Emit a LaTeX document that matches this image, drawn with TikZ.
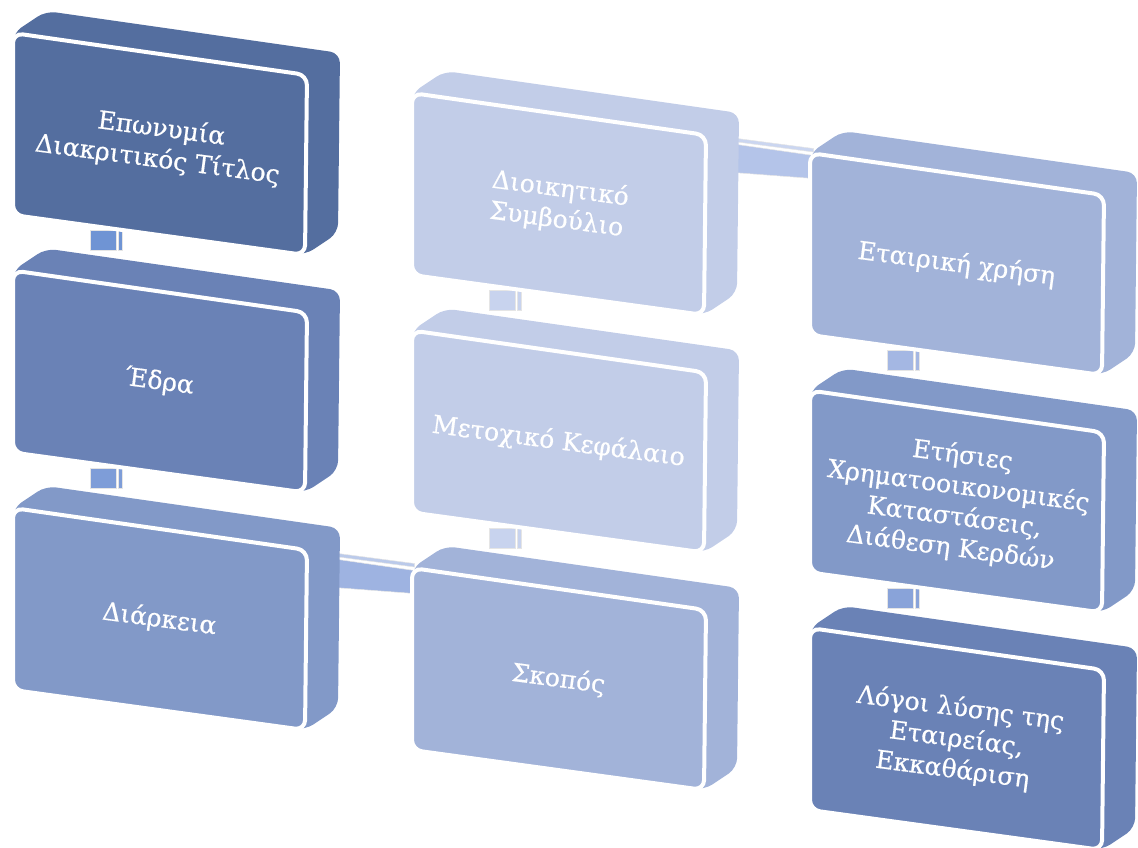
\documentclass[tikz,border=0pt]{standalone}
\usepackage{fontspec}
\setmainfont{DejaVu Serif}[FakeBold=0.6]
\usetikzlibrary{calc}
\pgfdeclarelayer{background}
\pgfsetlayers{background,main}
\definecolor{cA}{HTML}{546E9F}
\definecolor{cB}{HTML}{6A82B6}
\definecolor{cC}{HTML}{8299C8}
\definecolor{cD}{HTML}{C2CDE8}
\definecolor{cE}{HTML}{A2B3D9}
\definecolor{kA}{HTML}{6F94D4}
\definecolor{kB}{HTML}{7E9DD8}
\definecolor{kD}{HTML}{C8D3EE}
\definecolor{kE}{HTML}{A4B7E3}
\definecolor{kC}{HTML}{89A3D9}
\definecolor{hA}{HTML}{9EB3E1}
\definecolor{hB}{HTML}{B4C4E9}
\tikzset{
  x=1pt, y=-1pt,
  body/.style={fill=#1, rounded corners=10pt},
  face/.style={fill=#1, draw=white, line width=4pt, rounded corners=10pt},
  lbl/.style={text=white, align=center, rotate=-7.5, inner sep=0pt,
    font=\fontsize{25}{31}\selectfont},
  vbar/.style={fill=#1, draw=black!10, line width=0.5pt},
  hbar/.style={fill=#1, draw=black!10, line width=0.5pt},
}
\newcommand\pbox[5]{%
  \begin{scope}[shift={(#2,#3)}]
    \fill[body=#4] (0,0) -- (33,-22) -- (327,20) -- (325,200) -- (292,222) -- (0,182) -- cycle;
    \draw[face=#4] (0,0) -- (294,42) -- (292,222) -- (0,182) -- cycle;
    \node[lbl] (#1) at (146.5,111.5) {#5};
  \end{scope}}
\newcommand\vconn[2]{% from box #1 downward, colour #2
  \filldraw[vbar=#2] ($(#1)+(-69.5,86)$) rectangle ($(#1)+(-43.5,106)$);
  \filldraw[vbar=#2] ($(#1)+(-41.5,86)$) rectangle ($(#1)+(-37.5,106)$);}
\newcommand\hconn[2]{% from box #1 rightward, colour #2
  \filldraw[hbar=#2] ($(#1)+(175,-60.5)$) -- ($(#1)+(255,-49)$) -- ($(#1)+(255,-26)$) -- ($(#1)+(175,-32)$) -- cycle;
  \filldraw[hbar=#2!70!white] ($(#1)+(175,-66.5)$) -- ($(#1)+(255,-56)$) -- ($(#1)+(255,-52.5)$) -- ($(#1)+(175,-63)$) -- cycle;}
\begin{document}
\begin{tikzpicture}
\useasboundingbox (0,0) rectangle (1138,847);
\pbox{b1}{13}{33}{cA}{Επωνυμία\\Διακριτικός Τίτλος}
\pbox{b2}{13}{270.5}{cB}{Έδρα}
\pbox{b3}{13}{508}{cC}{Διάρκεια}
\pbox{b4}{412}{93}{cD}{Διοικητικό\\Συμβούλιο}
\pbox{b5}{412}{330.5}{cD}{Μετοχικό Κεφάλαιο}
\pbox{b6}{412}{568}{cE}{Σκοπός}
\pbox{b7}{810}{153}{cE}{Εταιρική χρήση}
\pbox{b8}{810}{390.5}{cC}{Ετήσιες\\Χρηματοοικονομικές\\Καταστάσεις,\\Διάθεση Κερδών}
\pbox{b9}{810}{628}{cB}{Λόγοι λύσης της\\Εταιρείας,\\Εκκαθάριση}
\begin{pgfonlayer}{background}
\vconn{b1}{kA}
\vconn{b2}{kB}
\vconn{b4}{kD}
\vconn{b5}{kD}
\vconn{b7}{kE}
\vconn{b8}{kC}
\hconn{b3}{hA}
\hconn{b4}{hB}
\end{pgfonlayer}
\end{tikzpicture}
\end{document}
